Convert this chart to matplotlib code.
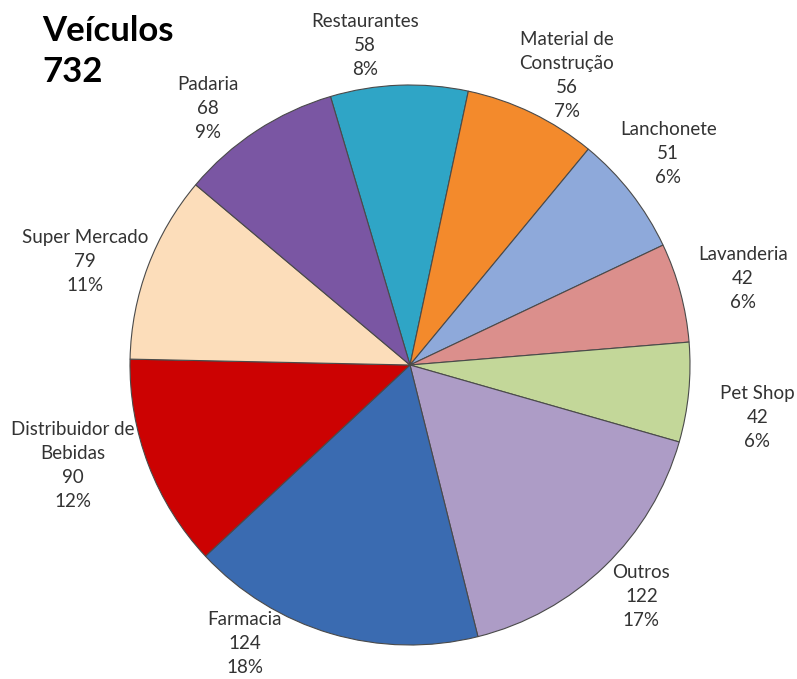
import numpy as np
import matplotlib
matplotlib.use("Agg")
import matplotlib.pyplot as plt

categories = ["Restaurantes", "Material de\nConstrução", "Lanchonete", "Lavanderia",
              "Pet Shop", "Outros", "Farmacia", "Distribuidor de\nBebidas",
              "Super Mercado", "Padaria"]
counts = [58, 56, 51, 42, 42, 122, 124, 90, 79, 68]
percent_labels = ["8%", "7%", "6%", "6%", "6%", "17%", "18%", "12%", "11%", "9%"]
total_label = "732"

colors = ["#2FA5C6", "#F38A2C", "#8EA9DA", "#DB8F8C", "#C3D799", "#AD9CC6",
          "#3A6BB1", "#CC0202", "#FCDDBA", "#7A56A3"]
# per-label distance from centre (in radii) and angular nudge (deg)
label_dist = [1.154, 1.175, 1.193, 1.229, 1.254, 1.168, 1.157, 1.257, 1.218, 1.168]
label_shift = [5.8, -2.7, 1.5, -0.4, -2.9, 1.0, -14.2, -4.4, 3.0, 5.0]

plt.rcParams["font.family"] = ["Lato", "DejaVu Sans"]

W, H = 797, 679
fig = plt.figure(figsize=(W / 100, H / 100), dpi=100)
cx, cy, r = 410, 365, 280
ax = fig.add_axes([(cx - r) / W, (H - cy - r) / H, 2 * r / W, 2 * r / H])

wedges, _ = ax.pie(counts, colors=colors, startangle=106.5, counterclock=False,
                   radius=1.0,
                   wedgeprops=dict(edgecolor="#4a4a4a", linewidth=0.8))
ax.set_xlim(-1, 1)
ax.set_ylim(-1, 1)
ax.set_aspect("equal")
ax.axis("off")

for w, name, n, pct, d, s in zip(wedges, categories, counts, percent_labels,
                                 label_dist, label_shift):
    ang = np.deg2rad((w.theta1 + w.theta2) / 2 + s)
    ax.text(d * np.cos(ang), d * np.sin(ang), f"{name}\n{n}\n{pct}",
            ha="center", va="center", fontsize=13.5, color="#333333",
            linespacing=1.5, clip_on=False)

fig.text(42 / W, 1 - 15 / H, f"Veículos\n{total_label}", ha="left", va="top",
         fontsize=25, fontweight="bold", color="black", linespacing=1.35)

fig.savefig("out.png", dpi=100, facecolor="white")
